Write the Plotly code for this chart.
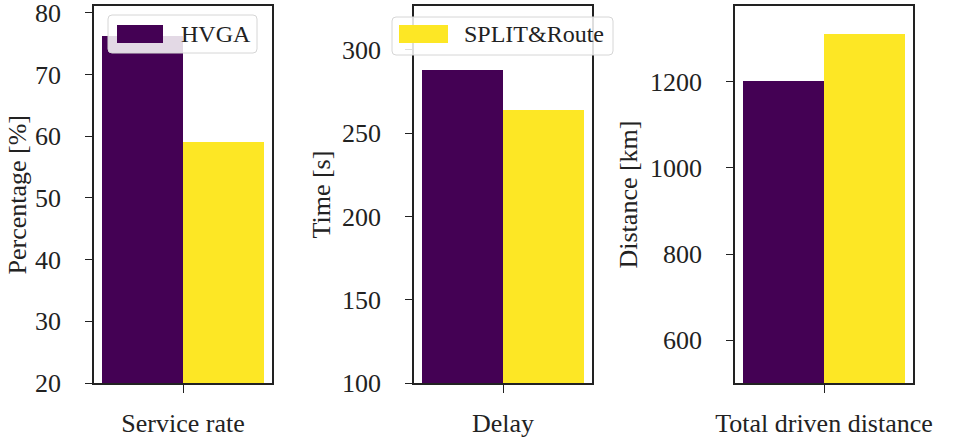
import plotly.graph_objects as go

# Metrics compared between the two methods
categories = ["Service rate", "Delay", "Total driven distance"]
y_titles = ["Percentage [%]", "Time [s]", "Distance [km]"]
series_names = ["HVGA", "SPLIT&Route"]
hvga_values = [76.2, 288.0, 1200.0]
split_values = [59.1, 264.0, 1310.0]
y_ranges = [[20, 81.1], [100, 326.4], [501, 1375]]
y_ticks = [[20, 30, 40, 50, 60, 70, 80], [100, 150, 200, 250, 300], [600, 800, 1000, 1200]]

W, H = 955, 442
FONT = "Liberation Serif"
PURPLE = "#440154"
YELLOW = "#fde725"
TEXT = "#222222"
FS = 26

# panel geometry in pixels
x_domains_px = [(94, 272), (414, 592), (735, 913)]
y_top_px, y_bot_px = 6, 383
title_x_px = [17, 321, 628]

fig = go.Figure()
layout = dict(
    width=W, height=H,
    margin=dict(l=0, r=0, t=0, b=0, autoexpand=False),
    paper_bgcolor="white", plot_bgcolor="white",
    font=dict(family=FONT, size=FS, color=TEXT),
    showlegend=False,
    bargap=0,
)

annotations = []
shapes = []
for i, cat in enumerate(categories):
    sfx = "" if i == 0 else str(i + 1)
    xa, ya = "x" + sfx, "y" + sfx
    fig.add_trace(go.Bar(x=[0], y=[hvga_values[i]], name=series_names[0],
                         offset=-0.4, width=0.4, marker=dict(color=PURPLE, line=dict(width=0)),
                         xaxis=xa, yaxis=ya))
    fig.add_trace(go.Bar(x=[0], y=[split_values[i]], name=series_names[1],
                         offset=0.0, width=0.4, marker=dict(color=YELLOW, line=dict(width=0)),
                         xaxis=xa, yaxis=ya))
    x0, x1 = x_domains_px[i]
    layout["xaxis" + sfx] = dict(
        domain=[x0 / W, x1 / W], anchor=ya, range=[-0.44, 0.44], automargin=False,
        tickvals=[0], ticktext=[cat], ticks="outside", ticklen=8, tickwidth=1,
        tickcolor="#222", showline=True, linecolor="#222", linewidth=1.5, mirror=True,
        showgrid=False, zeroline=False, ticklabelstandoff=8, ticklabeloverflow="allow",
        tickfont=dict(family=FONT, size=FS, color=TEXT), fixedrange=True,
    )
    layout["yaxis" + sfx] = dict(
        domain=[1 - y_bot_px / H, 1 - y_top_px / H], anchor=xa, range=y_ranges[i], automargin=False,
        tickvals=y_ticks[i], ticks="outside", ticklen=7, tickwidth=1,
        tickcolor="#222", showline=True, linecolor="#222", linewidth=1.5, mirror=True,
        showgrid=False, zeroline=False, ticklabelstandoff=19, ticklabeloverflow="allow",
        tickfont=dict(family=FONT, size=FS, color=TEXT), fixedrange=True,
    )
    annotations.append(dict(
        text=y_titles[i], x=title_x_px[i] / W, y=1 - (y_top_px + y_bot_px) / 2 / H,
        xref="paper", yref="paper", showarrow=False, textangle=-90,
        xanchor="center", yanchor="middle", font=dict(family=FONT, size=FS, color=TEXT),
    ))


def rounded_rect(x0, y0, x1, y1, r=4):
    # pixel box -> paper path with rounded corners
    px = lambda v: v / W
    py = lambda v: 1 - v / H
    rx, ry = r / W, r / H
    return (f"M {px(x0)+rx},{py(y0)} L {px(x1)-rx},{py(y0)} Q {px(x1)},{py(y0)} {px(x1)},{py(y0)-ry} "
            f"L {px(x1)},{py(y1)+ry} Q {px(x1)},{py(y1)} {px(x1)-rx},{py(y1)} "
            f"L {px(x0)+rx},{py(y1)} Q {px(x0)},{py(y1)} {px(x0)},{py(y1)+ry} "
            f"L {px(x0)},{py(y0)-ry} Q {px(x0)},{py(y0)} {px(x0)+rx},{py(y0)} Z")


# legend boxes: one series per legend
legend_boxes = [(108, 15, 257, 53), (392, 17, 613, 55)]
legend_patches = [(117, 25, 163, 43), (399, 25, 448, 43)]
legend_text_x = [179, 462]
legend_colors = [PURPLE, YELLOW]
for j in range(2):
    bx0, by0, bx1, by1 = legend_boxes[j]
    shapes.append(dict(type="path", path=rounded_rect(bx0, by0, bx1, by1), xref="paper", yref="paper",
                       fillcolor="rgba(255,255,255,0.85)", line=dict(color="#d6d6d6", width=1), layer="above"))
    px0, py0, px1, py1 = legend_patches[j]
    shapes.append(dict(type="rect", x0=px0 / W, x1=px1 / W, y0=1 - py1 / H, y1=1 - py0 / H,
                       xref="paper", yref="paper", fillcolor=legend_colors[j], line=dict(width=0), layer="above"))
    annotations.append(dict(
        text=series_names[j], x=legend_text_x[j] / W, y=1 - (py0 + py1) / 2 / H,
        xref="paper", yref="paper", showarrow=False, xanchor="left", yanchor="middle",
        font=dict(family=FONT, size=24, color=TEXT),
    ))

layout["annotations"] = annotations
layout["shapes"] = shapes
fig.update_layout(**layout)
fig.write_html("out.html")
